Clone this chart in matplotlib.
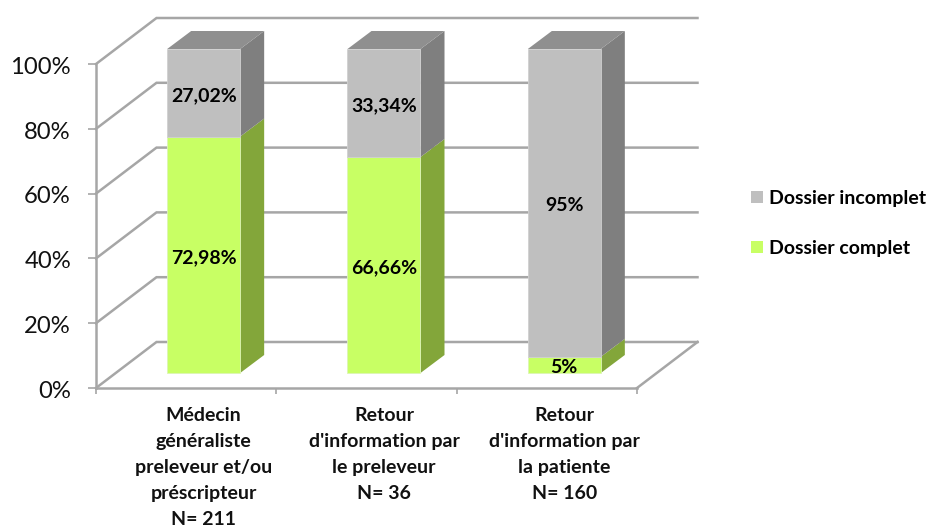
import matplotlib
matplotlib.use("Agg")
import matplotlib.pyplot as plt
from matplotlib.patches import Patch
from matplotlib.transforms import ScaledTranslation

categories = ["Médecin\ngénéraliste\npreleveur et/ou\npréscripteur\nN= 211",
              "Retour\nd'information par\nle preleveur\nN= 36",
              "Retour\nd'information par\nla patiente\nN= 160"]
complete = [72.98, 66.66, 5]
incomplete = [27.02, 33.34, 95]
complete_labels = ["72,98%", "66,66%", "5%"]
incomplete_labels = ["27,02%", "33,34%", "95%"]
yticks = [0, 20, 40, 60, 80, 100]
series_names = ["Dossier incomplet", "Dossier complet"]

W, H = 929, 526
L, R, B, T = 96, 637, 388, 64
FONT = "Lato"
GRID = "#A6A6A6"
GREEN, GREEN_SIDE = "#C8FF64", "#83A63A"
GREY, GREY_SIDE, GREY_TOP = "#BFBFBF", "#7F7F7F", "#8F8F8F"

fig = plt.figure(figsize=(W / 100, H / 100), dpi=100, facecolor="white")
ax = fig.add_axes([L / W, 1 - B / H, (R - L) / W, (B - T) / H])
ax.set_xlim(-0.5, 2.5)
ax.set_ylim(0, 100)
ax.set_facecolor("none")

sx = (R - L) / 3          # pixels per category
sy = (B - T) / 100        # pixels per percent


def dx(px):
    return px / sx


def dy(px):
    return px / sy


# depth of the oblique projection, in pixels
WALL_X, WALL_Y = 60.5, 46
BAR_FRONT_X, BAR_FRONT_Y = 17.5, 15
BAR_DEPTH_X, BAR_DEPTH_Y = 24, 18
BAR_W = 73 / sx

# walls and floor
for v in yticks:
    ax.plot([-0.5, -0.5 + dx(WALL_X), 2.5 + dx(WALL_X)],
            [v, v + dy(WALL_Y), v + dy(WALL_Y)],
            color=GRID, lw=1.8, clip_on=False, zorder=1, solid_joinstyle="miter")
ax.plot([2.5, 2.5 + dx(WALL_X)], [0, dy(WALL_Y)],
        color=GRID, lw=1.8, clip_on=False, zorder=1)

xoff = dx(BAR_FRONT_X)
yoff = dy(BAR_FRONT_Y)
ddx, ddy = dx(BAR_DEPTH_X), dy(BAR_DEPTH_Y)
xs = [i + xoff for i in range(len(categories))]

for x, c, g in zip(xs, complete, incomplete):
    right = x + BAR_W / 2
    left = x - BAR_W / 2
    base = yoff
    ax.fill([right, right + ddx, right + ddx, right],
            [base, base + ddy, base + c + ddy, base + c],
            color=GREEN_SIDE, lw=0, clip_on=False, zorder=3)
    ax.fill([right, right + ddx, right + ddx, right],
            [base + c, base + c + ddy, base + c + g + ddy, base + c + g],
            color=GREY_SIDE, lw=0, clip_on=False, zorder=3)
    top = base + c + g
    ax.fill([left, right, right + ddx, left + ddx],
            [top, top, top + ddy, top + ddy],
            color=GREY_TOP, lw=0, clip_on=False, zorder=3)

ax.bar(xs, complete, width=BAR_W, bottom=yoff, color=GREEN,
       edgecolor="#DDF5B5", lw=0.6, clip_on=False, zorder=4)
ax.bar(xs, incomplete, width=BAR_W, bottom=[yoff + c for c in complete], color=GREY,
       edgecolor="#D0D0D0", lw=0.6, clip_on=False, zorder=4)

for x, c, g, cl, gl in zip(xs, complete, incomplete, complete_labels, incomplete_labels):
    for yy, s in ((yoff + c / 2, cl), (yoff + c + g / 2, gl)):
        ax.annotate(s, (x, yy), xytext=(0, -2), textcoords="offset points",
                    ha="center", va="center", fontsize=14.0,
                    fontweight="bold", family=FONT, color="black", zorder=5,
                    annotation_clip=False)

# axes
for s in ("top", "right"):
    ax.spines[s].set_visible(False)
for s in ("left", "bottom"):
    ax.spines[s].set_color(GRID)
    ax.spines[s].set_linewidth(1.8)
    ax.spines[s].set_zorder(2)

ax.set_yticks(yticks)
ax.set_yticklabels([f"{v}%" for v in yticks], fontsize=17.2, family=FONT, color="#111111",
                   va="center_baseline")
ax.tick_params(axis="y", length=6, width=1.2, color=GRID, pad=12)
shift = ScaledTranslation(0, -1.0 / 72, fig.dpi_scale_trans)
for lab in ax.get_yticklabels():
    lab.set_transform(lab.get_transform() + shift)

ax.set_xticks(xs)
ax.set_xticklabels(categories, fontsize=14.0, fontweight="bold", family=FONT,
                   linespacing=1.64, color="#111111")
ax.set_xticks([-0.5, 0.5, 1.5, 2.5], minor=True)
ax.tick_params(axis="x", which="major", length=0, pad=13.5)
ax.tick_params(axis="x", which="minor", length=4, width=1.2, color=GRID)

handles = [Patch(facecolor=GREY, edgecolor="none"), Patch(facecolor=GREEN, edgecolor="none")]
fig.legend(handles, series_names, loc="center left",
           bbox_to_anchor=(751 / W, 1 - 223.5 / H), frameon=False,
           prop={"family": FONT, "weight": "bold", "size": 14.0},
           handlelength=0.6, handleheight=0.6, handletextpad=0.35,
           labelspacing=1.71, borderpad=0, borderaxespad=0)

fig.savefig("out.png", dpi=100)
